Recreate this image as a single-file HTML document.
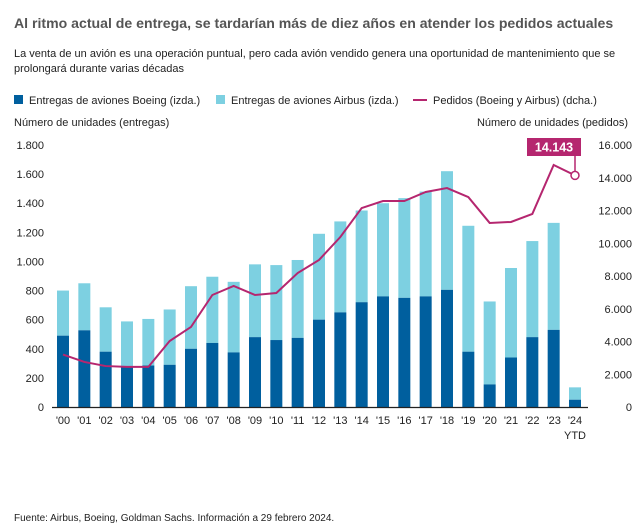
<!DOCTYPE html>
<html><head><meta charset="utf-8"><style>
body{margin:0;background:#fff;font-family:"Liberation Sans",sans-serif;color:#222}
#w{position:relative;width:636px;height:526px;overflow:hidden}
.t{position:absolute;white-space:nowrap}
</style></head><body><div id="w">
<div class="t" style="left:14px;top:15px;font-size:14.1px;font-weight:bold;color:#555">Al ritmo actual de entrega, se tardarían más de diez años en atender los pedidos actuales</div>
<div class="t" style="left:14px;top:47px;font-size:11px;line-height:15px;white-space:normal;width:610px">La venta de un avión es una operación puntual, pero cada avión vendido genera una oportunidad de mantenimiento que se prolongará durante varias décadas</div>
<div class="t" style="left:14px;top:95px;font-size:11px"><span style="display:inline-block;width:9px;height:9px;background:#005f9e;margin-right:6px"></span>Entregas de aviones Boeing (izda.)</div>
<div class="t" style="left:216px;top:95px;font-size:11px"><span style="display:inline-block;width:9px;height:9px;background:#7dd0e1;margin-right:6px"></span>Entregas de aviones Airbus (izda.)</div>
<div class="t" style="left:413px;top:95px;font-size:11px"><span style="display:inline-block;width:14px;height:2px;background:#b5266f;margin-right:6px;vertical-align:3px"></span>Pedidos (Boeing y Airbus) (dcha.)</div>
<div class="t" style="left:14px;top:117px;font-size:11px">Número de unidades (entregas)</div>
<div class="t" style="right:8px;top:117px;font-size:11px">Número de unidades (pedidos)</div>
<div class="t" style="left:14px;top:513px;font-size:10px">Fuente: Airbus, Boeing, Goldman Sachs. Información a 29 febrero 2024.</div>
<svg id="c" width="636" height="526" style="position:absolute;left:0;top:0"></svg>
</div>
<script>
const years=["'00","'01","'02","'03","'04","'05","'06","'07","'08","'09","'10","'11","'12","'13","'14","'15","'16","'17","'18","'19","'20","'21","'22","'23","'24"];
const boeing=[490,527,380,280,285,290,400,440,375,480,460,475,600,650,720,760,750,760,805,380,155,340,480,530,50];
const totals=[800,850,685,588,605,670,830,895,860,980,975,1010,1190,1275,1350,1400,1435,1480,1620,1245,725,955,1140,1265,135];
const orders=[3200,2750,2500,2450,2450,4030,4890,6840,7390,6840,6960,8180,8980,10380,12150,12580,12580,13130,13370,12820,11240,11300,11790,14780,14143];
const leftTicks=[0,200,400,600,800,1000,1200,1400,1600,1800];
const rightTicks=[0,2000,4000,6000,8000,10000,12000,14000,16000];
const NS="http://www.w3.org/2000/svg",svg=document.getElementById('c');
const y0=407,yT=145;
const yL=v=>y0-(v/1800)*(y0-yT);
const yR=v=>y0-(v/16000)*(y0-yT);
const xC=i=>63+i*(512/24);
const fmt=v=>v.toLocaleString('de-DE');
function mk(t,a){const e=document.createElementNS(NS,t);for(const k in a)e.setAttribute(k,a[k]);svg.appendChild(e);return e;}
leftTicks.forEach(v=>{const e=mk('text',{x:44,y:yL(v)+4,'text-anchor':'end','font-size':11,fill:'#222'});e.textContent=fmt(v);

});
rightTicks.forEach(v=>{const e=mk('text',{x:632,y:yR(v)+4,'text-anchor':'end','font-size':11,fill:'#222'});e.textContent=fmt(v);

});
years.forEach((y,i)=>{const x=xC(i);
const a=mk('rect',{x:x-6,y:yL(totals[i]),width:12,height:yL(boeing[i])-yL(totals[i]),fill:'#7dd0e1'});


const b=mk('rect',{x:x-6,y:yL(boeing[i]),width:12,height:y0-yL(boeing[i]),fill:'#005f9e'});


const t=mk('text',{x:x,y:424,'text-anchor':'middle','font-size':11,fill:'#222'});t.textContent=y;

});
const ytd=mk('text',{x:xC(24),y:439,'text-anchor':'middle','font-size':11,fill:'#222'});ytd.textContent='YTD';


const ax=mk('line',{x1:52,x2:588,y1:y0+0.5,y2:y0+0.5,stroke:'#222','stroke-width':1.2});


const ln=mk('polyline',{points:orders.map((v,i)=>xC(i)+','+yR(v)).join(' '),fill:'none',stroke:'#b5266f','stroke-width':2});


const last=orders.length-1,lx=xC(last),ly=yR(orders[last]);
const cl=mk('line',{x1:lx,x2:lx,y1:156,y2:ly-4,stroke:'#b5266f','stroke-width':1.5});


const dot=mk('circle',{cx:lx,cy:ly,r:4,fill:'#fff',stroke:'#b5266f','stroke-width':1.5});


const box=mk('rect',{x:527,y:138,width:54,height:18,fill:'#b5266f'});


const bt=mk('text',{x:554,y:151.5,'text-anchor':'middle','font-size':12.5,'font-weight':'bold',fill:'#fff'});bt.textContent=fmt(orders[last]);


</script></body></html>
